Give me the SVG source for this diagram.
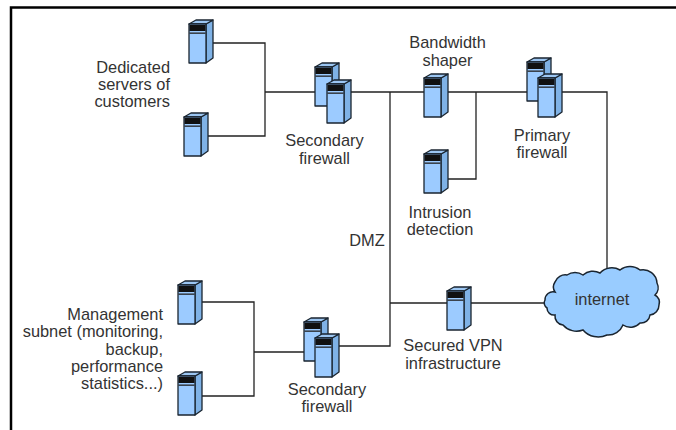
<svg xmlns="http://www.w3.org/2000/svg" width="676" height="430" viewBox="0 0 676 430">
<style>
.t{font-family:"Liberation Sans",Arial,sans-serif;font-size:16.400px;fill:#333;text-anchor:middle}
.r{text-anchor:end}
.c{fill:none;stroke:#222;stroke-width:1.3}
.o{stroke:#1a2530;stroke-width:1.3;stroke-linejoin:round}
</style>
<defs>
<g id="srv">
<path class="o" fill="#7fb2e6" d="M17 4L24 0V38L17 43Z"/>
<path class="o" fill="#9cc6f2" d="M0 4L7 0H24L17 4Z"/>
<rect class="o" x="0" y="4" width="17" height="39" fill="#9ccbff"/>
<rect x="0.5" y="5" width="16" height="6" fill="#111"/>
<rect x="0.5" y="12.5" width="16" height="1.3" fill="#222"/>
</g>
</defs>
<rect width="676" height="430" fill="#fff"/>
<path d="M11 430V7.500H676" fill="none" stroke="#000" stroke-width="2.500"/>
<g id="connectors">
<path class="c" d="M213 43H265V136H208M265 92H320M345 92H527M390 92V346H335M390 303H450M468 303H550M445 179H476V92M555 92H607V272M202 302H254V396H202M254 352H310"/>
</g>
<g id="server-1"><use href="#srv" x="189" y="20"/></g>
<g id="server-2"><use href="#srv" x="184" y="113"/></g>
<g id="secondary-firewall-top"><use href="#srv" x="315" y="63"/><use href="#srv" x="327" y="80"/></g>
<g id="bandwidth-shaper"><use href="#srv" x="424" y="74"/></g>
<g id="intrusion-detection"><use href="#srv" x="424" y="150"/></g>
<g id="primary-firewall"><use href="#srv" x="527" y="58"/><use href="#srv" x="538" y="74"/></g>
<g id="management-1"><use href="#srv" x="178" y="281"/></g>
<g id="management-2"><use href="#srv" x="178" y="372"/></g>
<g id="secondary-firewall-bottom"><use href="#srv" x="304" y="318"/><use href="#srv" x="315" y="334"/></g>
<g id="vpn"><use href="#srv" x="447" y="287"/></g>
<g id="internet">
<path d="M545 300A8 8 0 0 1 555 292A9 9 0 0 1 555 282A11 11 0 0 1 567 275A14 14 0 0 1 583 275A15 15 0 0 1 600 273A16 16 0 0 1 620 270A16 16 0 0 1 640 270A14 14 0 0 1 657 283A10 10 0 0 1 655 295A9 9 0 0 1 659 305A10 10 0 0 1 650 315A9 9 0 0 1 640 323A13 13 0 0 1 623 325A16 16 0 0 1 607 335A20 20 0 0 1 583 330A18 18 0 0 1 563 325A9 9 0 0 1 555 315A7 7 0 0 1 547 308A6 6 0 0 1 545 300Z" fill="#99ccff" stroke="#1a2530" stroke-width="1.500"/>
<text class="t" x="602" y="305">internet</text>
</g>
<g id="labels">
<text class="t r" x="170" y="73">Dedicated</text>
<text class="t r" x="170" y="90">servers of</text>
<text class="t r" x="170" y="107">customers</text>
<text class="t" x="324.500" y="146">Secondary</text>
<text class="t" x="324.500" y="164">firewall</text>
<text class="t" x="447.500" y="48">Bandwidth</text>
<text class="t" x="447.500" y="66">shaper</text>
<text class="t" x="542" y="141">Primary</text>
<text class="t" x="542" y="158">firewall</text>
<text class="t" x="440" y="218">Intrusion</text>
<text class="t" x="440" y="235">detection</text>
<text class="t" x="367" y="246">DMZ</text>
<text class="t r" x="163" y="320">Management</text>
<text class="t r" x="163" y="337">subnet (monitoring,</text>
<text class="t r" x="163" y="355">backup,</text>
<text class="t r" x="163" y="372">performance</text>
<text class="t r" x="163" y="389">statistics...)</text>
<text class="t" x="453" y="351">Secured VPN</text>
<text class="t" x="453" y="369">infrastructure</text>
<text class="t" x="327" y="395">Secondary</text>
<text class="t" x="327" y="412">firewall</text>
</g>
</svg>
